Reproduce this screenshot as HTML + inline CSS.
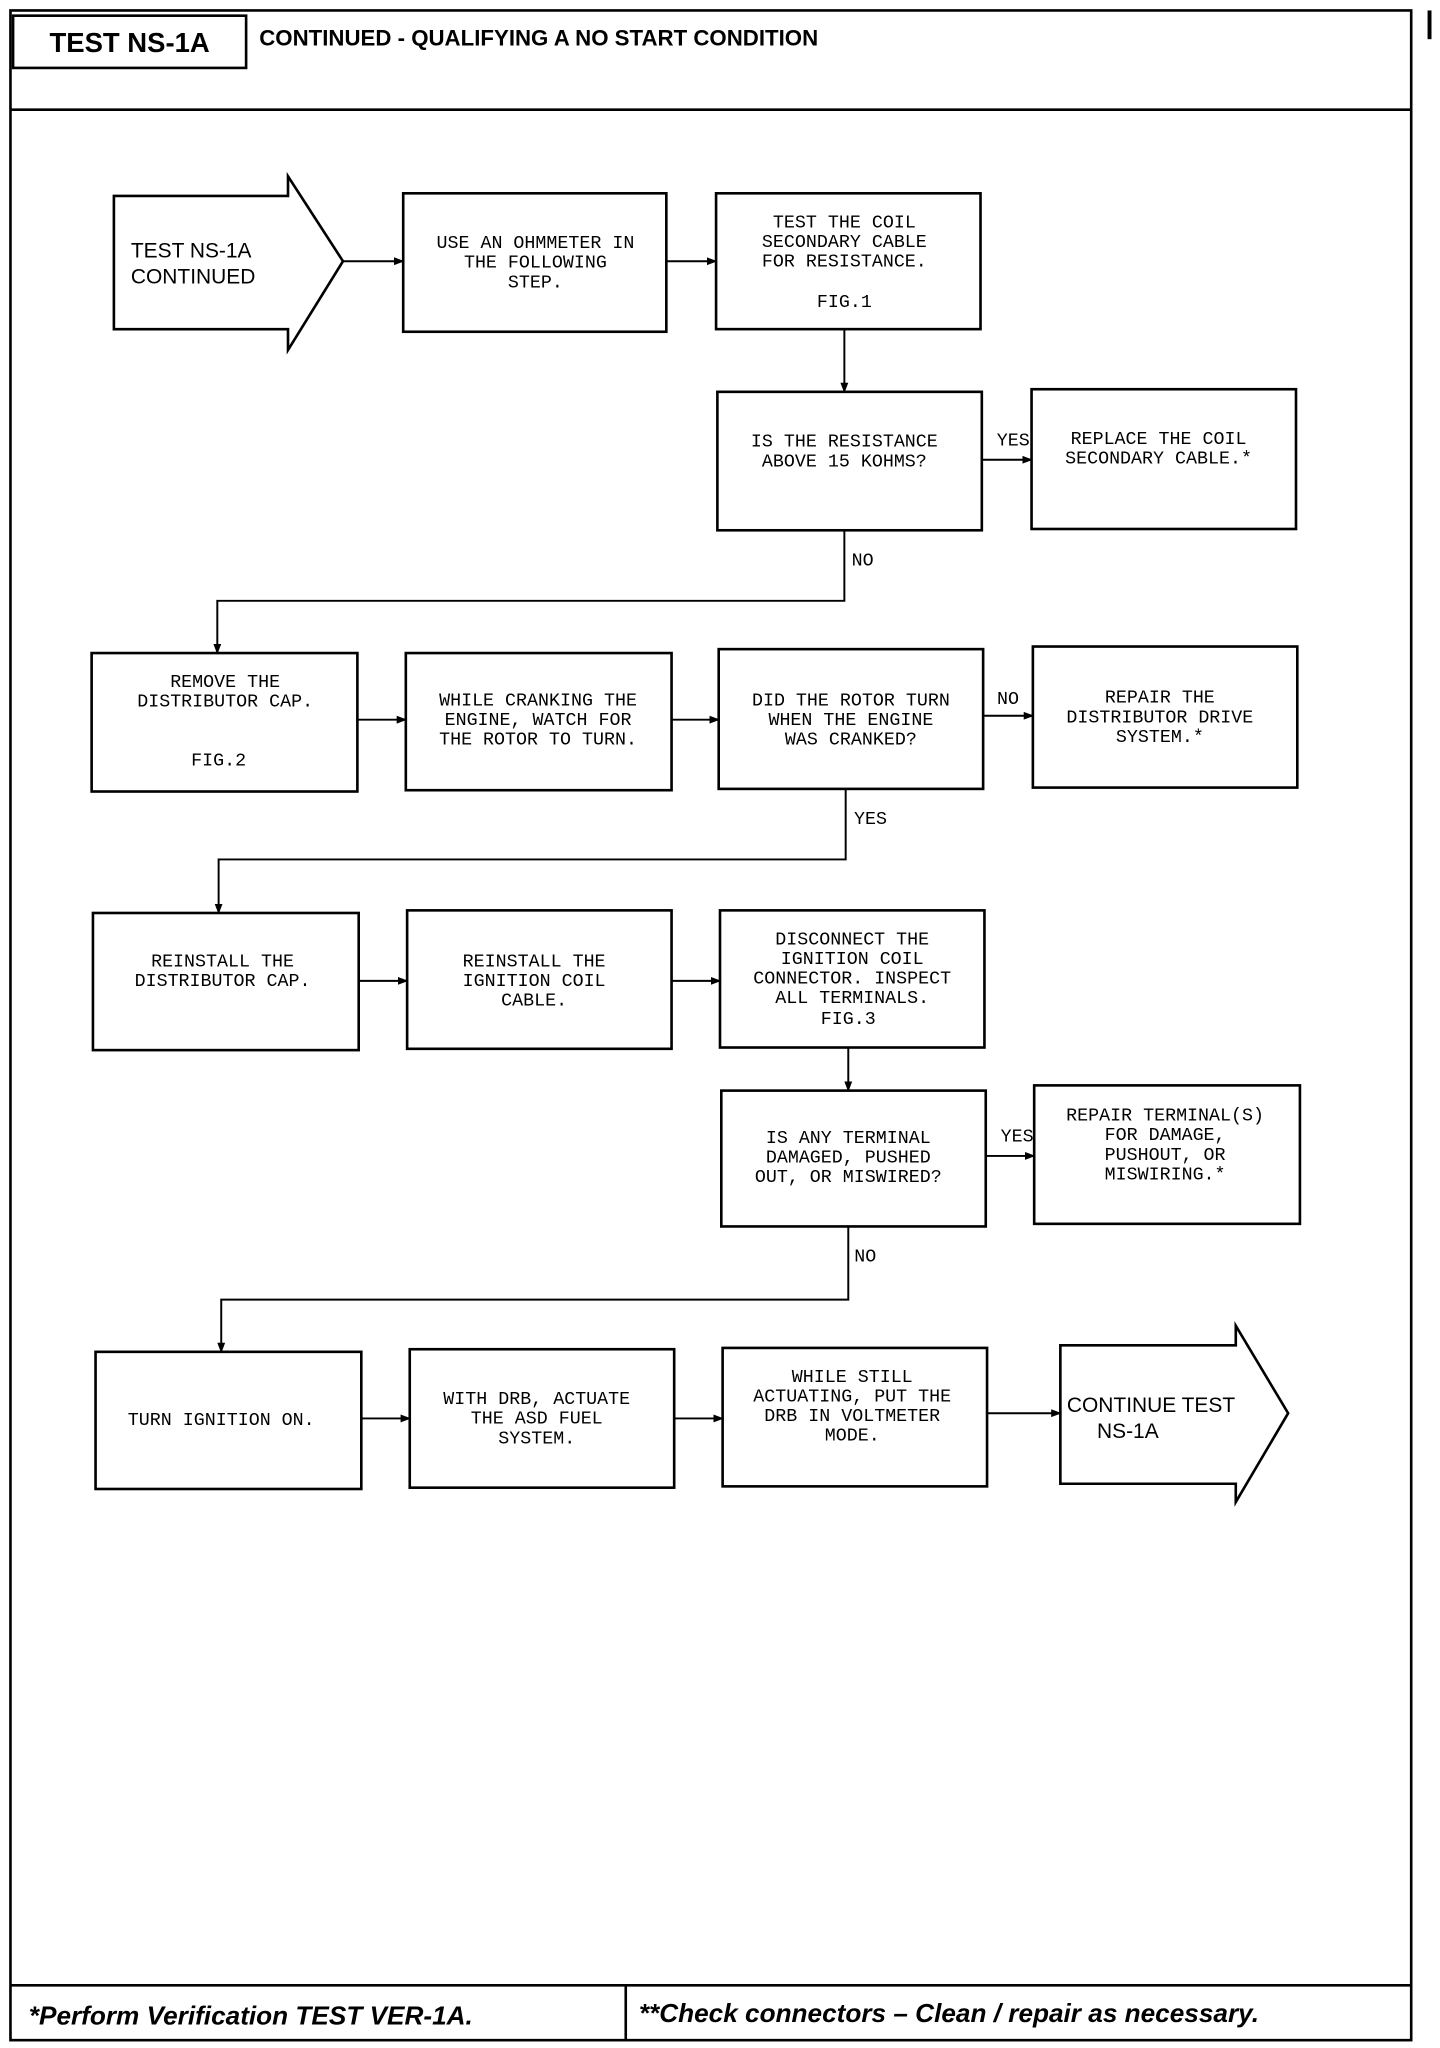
<!DOCTYPE html>
<html><head><meta charset="utf-8"><style>
html,body{margin:0;padding:0;background:#fff}
svg{display:block}
.m{font-family:"Liberation Mono",monospace;font-size:14px;fill:#000;text-anchor:middle}
.s{font-family:"Liberation Sans",sans-serif;fill:#000}
</style></head><body>
<svg width="1440" height="2048" viewBox="0 0 1100 1568" preserveAspectRatio="none" xmlns="http://www.w3.org/2000/svg">
<defs><marker id="a" markerWidth="8" markerHeight="8" refX="7" refY="4" orient="auto" markerUnits="userSpaceOnUse"><path d="M0,1 L8,4 L0,7z" fill="#000"/></marker></defs>
<g fill="none" stroke="#000" stroke-width="2">
<rect x="8" y="8" width="1070" height="1554"/>
<line x1="8" y1="84" x2="1078" y2="84"/>
<rect x="10" y="12" width="178" height="40"/>
<line x1="8" y1="1520" x2="1078" y2="1520"/>
<line x1="478" y1="1520" x2="478" y2="1562"/>
<line x1="1092" y1="8" x2="1092" y2="30" stroke-width="3"/>
<path d="M87,150 H220 V135 L262,200 L220,268 V252 H87 Z"/>
<rect x="308" y="148" width="201" height="106"/>
<rect x="547" y="148" width="202" height="104"/>
<rect x="548" y="300" width="202" height="106"/>
<rect x="788" y="298" width="202" height="107"/>
<rect x="70" y="500" width="203" height="106"/>
<rect x="310" y="500" width="203" height="105"/>
<rect x="549" y="497" width="202" height="107"/>
<rect x="789" y="495" width="202" height="108"/>
<rect x="71" y="699" width="203" height="105"/>
<rect x="311" y="697" width="202" height="106"/>
<rect x="550" y="697" width="202" height="105"/>
<rect x="551" y="835" width="202" height="104"/>
<rect x="790" y="831" width="203" height="106"/>
<rect x="73" y="1035" width="203" height="105"/>
<rect x="313" y="1033" width="202" height="106"/>
<rect x="552" y="1032" width="202" height="106"/>
<path d="M810,1030 H944 V1015 L984,1082 L944,1150 V1136 H810 Z"/>
</g>
<g fill="none" stroke="#000" stroke-width="1.5" marker-end="url(#a)">
<line x1="262" y1="200" x2="308" y2="200"/>
<line x1="509" y1="200" x2="547" y2="200"/>
<line x1="645" y1="252" x2="645" y2="300"/>
<line x1="750" y1="352" x2="788" y2="352"/>
<polyline points="645,406 645,460 166,460 166,500"/>
<line x1="273" y1="551" x2="310" y2="551"/>
<line x1="513" y1="551" x2="549" y2="551"/>
<line x1="751" y1="548" x2="789" y2="548"/>
<polyline points="646,604 646,658 167,658 167,699"/>
<line x1="274" y1="751" x2="311" y2="751"/>
<line x1="513" y1="751" x2="550" y2="751"/>
<line x1="648" y1="802" x2="648" y2="835"/>
<line x1="753" y1="885" x2="790" y2="885"/>
<polyline points="648,939 648,995 169,995 169,1035"/>
<line x1="276" y1="1086" x2="313" y2="1086"/>
<line x1="515" y1="1086" x2="552" y2="1086"/>
<line x1="754" y1="1082" x2="810" y2="1082"/>
</g>
<text class="s" x="99" y="40" font-size="21" font-weight="bold" text-anchor="middle">TEST NS-1A</text>
<text class="s" x="198" y="35" font-size="17" font-weight="bold">CONTINUED - QUALIFYING A NO START CONDITION</text>
<text class="s" x="22" y="1550" font-size="20" font-weight="bold" font-style="italic">*Perform Verification TEST VER-1A.</text>
<text class="s" x="488" y="1548" font-size="20" font-weight="bold" font-style="italic">**Check connectors – Clean / repair as necessary.</text>
<text class="s" x="100" y="197" font-size="16">TEST NS-1A</text>
<text class="s" x="100" y="217" font-size="16">CONTINUED</text>
<text class="s" x="815" y="1081" font-size="16">CONTINUE TEST</text>
<text class="s" x="838" y="1101" font-size="16">NS-1A</text>
<g class="m">
<text x="409" y="190">USE AN OHMMETER IN</text><text x="409" y="205">THE FOLLOWING</text><text x="409" y="220">STEP.</text>
<text x="645" y="174">TEST THE COIL</text><text x="645" y="189">SECONDARY CABLE</text><text x="645" y="204">FOR RESISTANCE.</text><text x="645" y="235">FIG.1</text>
<text x="645" y="342">IS THE RESISTANCE</text><text x="645" y="357">ABOVE 15 KOHMS?</text>
<text x="885" y="340">REPLACE THE COIL</text><text x="885" y="355">SECONDARY CABLE.*</text>
<text x="172" y="526">REMOVE THE</text><text x="172" y="541">DISTRIBUTOR CAP.</text><text x="167" y="586">FIG.2</text>
<text x="411" y="540">WHILE CRANKING THE</text><text x="411" y="555">ENGINE, WATCH FOR</text><text x="411" y="570">THE ROTOR TO TURN.</text>
<text x="650" y="540">DID THE ROTOR TURN</text><text x="650" y="555">WHEN THE ENGINE</text><text x="650" y="570">WAS CRANKED?</text>
<text x="886" y="538">REPAIR THE</text><text x="886" y="553">DISTRIBUTOR DRIVE</text><text x="886" y="568">SYSTEM.*</text>
<text x="170" y="740">REINSTALL THE</text><text x="170" y="755">DISTRIBUTOR CAP.</text>
<text x="408" y="740">REINSTALL THE</text><text x="408" y="755">IGNITION COIL</text><text x="408" y="770">CABLE.</text>
<text x="651" y="723">DISCONNECT THE</text><text x="651" y="738">IGNITION COIL</text><text x="651" y="753">CONNECTOR. INSPECT</text><text x="651" y="768">ALL TERMINALS.</text><text x="648" y="784">FIG.3</text>
<text x="648" y="875">IS ANY TERMINAL</text><text x="648" y="890">DAMAGED, PUSHED</text><text x="648" y="905">OUT, OR MISWIRED?</text>
<text x="890" y="858">REPAIR TERMINAL(S)</text><text x="890" y="873">FOR DAMAGE,</text><text x="890" y="888">PUSHOUT, OR</text><text x="890" y="903">MISWIRING.*</text>
<text x="169" y="1091">TURN IGNITION ON.</text>
<text x="410" y="1075">WITH DRB, ACTUATE</text><text x="410" y="1090">THE ASD FUEL</text><text x="410" y="1105">SYSTEM.</text>
<text x="651" y="1058">WHILE STILL</text><text x="651" y="1073">ACTUATING, PUT THE</text><text x="651" y="1088">DRB IN VOLTMETER</text><text x="651" y="1103">MODE.</text>
<text x="774" y="341">YES</text>
<text x="659" y="433">NO</text>
<text x="770" y="539">NO</text>
<text x="665" y="631">YES</text>
<text x="777" y="874">YES</text>
<text x="661" y="966">NO</text>
</g>
</svg>
</body></html>
